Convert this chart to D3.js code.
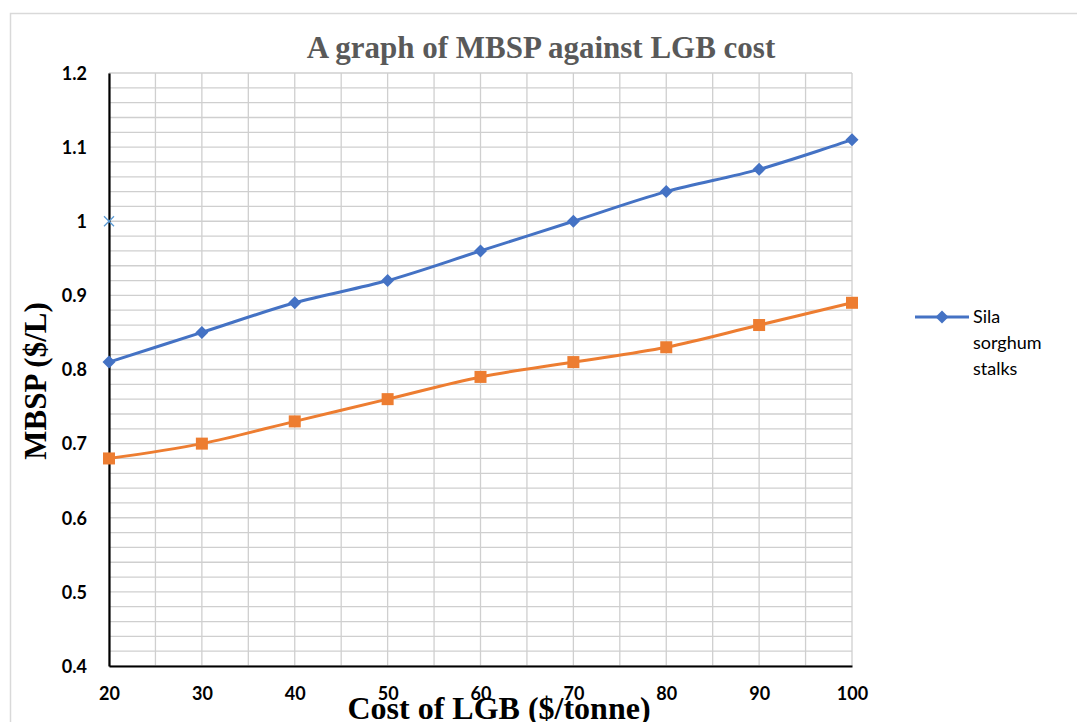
<!DOCTYPE html>
<html>
<head>
<meta charset="utf-8">
<script src="https://cdn.jsdelivr.net/npm/d3@7"></script>
<style>
  body { margin: 0; background: #fff; }
  svg { display: block; }
</style>
</head>
<body>
<svg id="chart" width="1077" height="722"></svg>
<script>
// Data
var costs = [20, 30, 40, 50, 60, 70, 80, 90, 100];
var silaValues = [0.81, 0.85, 0.89, 0.92, 0.96, 1.00, 1.04, 1.07, 1.11];
var otherValues = [0.68, 0.70, 0.73, 0.76, 0.79, 0.81, 0.83, 0.86, 0.89];
var strayPoint = [{ x: 20, y: 1.0 }];
var xTicks = [20, 30, 40, 50, 60, 70, 80, 90, 100];
var yTicks = [0.4, 0.5, 0.6, 0.7, 0.8, 0.9, 1, 1.1, 1.2];
var legendLines = ["Sila", "sorghum", "stalks"];

var svg = d3.select("#chart"),
    plot = { left: 109, right: 852, top: 73, bottom: 666 };

var x = d3.scaleLinear().domain([20, 100]).range([plot.left, plot.right]);
var y = d3.scaleLinear().domain([0.4, 1.2]).range([plot.bottom, plot.top]);

// Outer chart border
svg.append("rect")
    .attr("x", 10.5).attr("y", 13.5)
    .attr("width", 1100).attr("height", 720)
    .attr("fill", "none")
    .attr("stroke", "#d9d9d9")
    .attr("stroke-width", 1.5);

// Gridlines
var grid = svg.append("g").attr("stroke", "#cfcfcf").attr("stroke-width", 1.3);
grid.selectAll(".vg")
    .data(d3.range(20, 100.1, 5))
    .enter().append("line")
    .attr("x1", function (d) { return x(d); })
    .attr("x2", function (d) { return x(d); })
    .attr("y1", plot.top).attr("y2", plot.bottom);
grid.selectAll(".hg")
    .data(d3.range(0, 41).map(function (i) { return 0.4 + i * 0.02; }))
    .enter().append("line")
    .attr("x1", plot.left).attr("x2", plot.right)
    .attr("y1", function (d) { return y(d); })
    .attr("y2", function (d) { return y(d); });

// Axes
var yAxis = svg.append("g")
    .attr("transform", "translate(" + plot.left + ",0)")
    .call(d3.axisLeft(y).tickValues(yTicks).tickSize(0).tickPadding(22)
        .tickFormat(function (d) { return String(+d.toFixed(1)); }));
var xAxis = svg.append("g")
    .attr("transform", "translate(0," + plot.bottom + ")")
    .call(d3.axisBottom(x).tickValues(xTicks).tickSize(0).tickPadding(21));

[yAxis, xAxis].forEach(function (a) {
    a.select(".domain").attr("stroke", "#000").attr("stroke-width", 2.2);
    a.selectAll("text")
        .attr("fill", "#000")
        .style("font-family", "Lato, 'Open Sans', sans-serif")
        .style("font-weight", "bold")
        .style("font-size", "18px");
});
yAxis.selectAll("text").attr("dy", "0.35em");

// Series
var line = d3.line()
    .x(function (d) { return x(d.x); })
    .y(function (d) { return y(d.y); })
    .curve(d3.curveCatmullRom.alpha(0.5));

var sila = costs.map(function (c, i) { return { x: c, y: silaValues[i] }; });
var other = costs.map(function (c, i) { return { x: c, y: otherValues[i] }; });

svg.append("path").datum(sila)
    .attr("d", line).attr("fill", "none")
    .attr("stroke", "#4472c4").attr("stroke-width", 3);
svg.append("path").datum(other)
    .attr("d", line).attr("fill", "none")
    .attr("stroke", "#ed7d31").attr("stroke-width", 3);

svg.selectAll(".dia")
    .data(sila).enter().append("path")
    .attr("transform", function (d) { return "translate(" + x(d.x) + "," + y(d.y) + ")"; })
    .attr("d", "M0,-6.5L6.5,0L0,6.5L-6.5,0Z")
    .attr("fill", "#4472c4");

svg.selectAll(".sq")
    .data(other).enter().append("rect")
    .attr("x", function (d) { return x(d.x) - 6; })
    .attr("y", function (d) { return y(d.y) - 6; })
    .attr("width", 12).attr("height", 12)
    .attr("fill", "#ed7d31");

svg.selectAll(".cross")
    .data(strayPoint).enter().append("path")
    .attr("transform", function (d) { return "translate(" + x(d.x) + "," + y(d.y) + ")"; })
    .attr("d", "M-5,-5L5,5M-5,5L5,-5")
    .attr("stroke", "#5b9bd5").attr("stroke-width", 1.3);

// Legend
var lg = svg.append("g").attr("transform", "translate(915,317)");
lg.append("line").attr("x1", 0).attr("x2", 54).attr("y1", 0).attr("y2", 0)
    .attr("stroke", "#4472c4").attr("stroke-width", 3);
lg.append("path").attr("transform", "translate(27,0)")
    .attr("d", "M0,-6.5L6.5,0L0,6.5L-6.5,0Z").attr("fill", "#4472c4");
lg.selectAll("text").data(legendLines).enter().append("text")
    .attr("x", 58)
    .attr("y", function (d, i) { return i * 26; })
    .attr("dy", "0.35em")
    .style("font-family", "Lato, 'Open Sans', sans-serif")
    .style("font-size", "18px")
    .attr("fill", "#000")
    .text(function (d) { return d; });

// Titles
svg.append("text")
    .attr("x", 541).attr("y", 58)
    .attr("text-anchor", "middle")
    .style("font-family", "'Liberation Serif', 'Times New Roman', serif")
    .style("font-weight", "bold")
    .style("font-size", "31px")
    .attr("fill", "#595959")
    .text("A graph of MBSP against LGB cost");

svg.append("text")
    .attr("transform", "translate(46,381) rotate(-90)")
    .attr("text-anchor", "middle")
    .style("font-family", "'Liberation Serif', 'Times New Roman', serif")
    .style("font-weight", "bold")
    .style("font-size", "31px")
    .attr("fill", "#000")
    .text("MBSP ($/L)");

svg.append("text")
    .attr("x", 499).attr("y", 719)
    .attr("text-anchor", "middle")
    .style("font-family", "'Liberation Serif', 'Times New Roman', serif")
    .style("font-weight", "bold")
    .style("font-size", "32px")
    .attr("fill", "#000")
    .text("Cost of LGB ($/tonne)");
</script>
</body>
</html>
